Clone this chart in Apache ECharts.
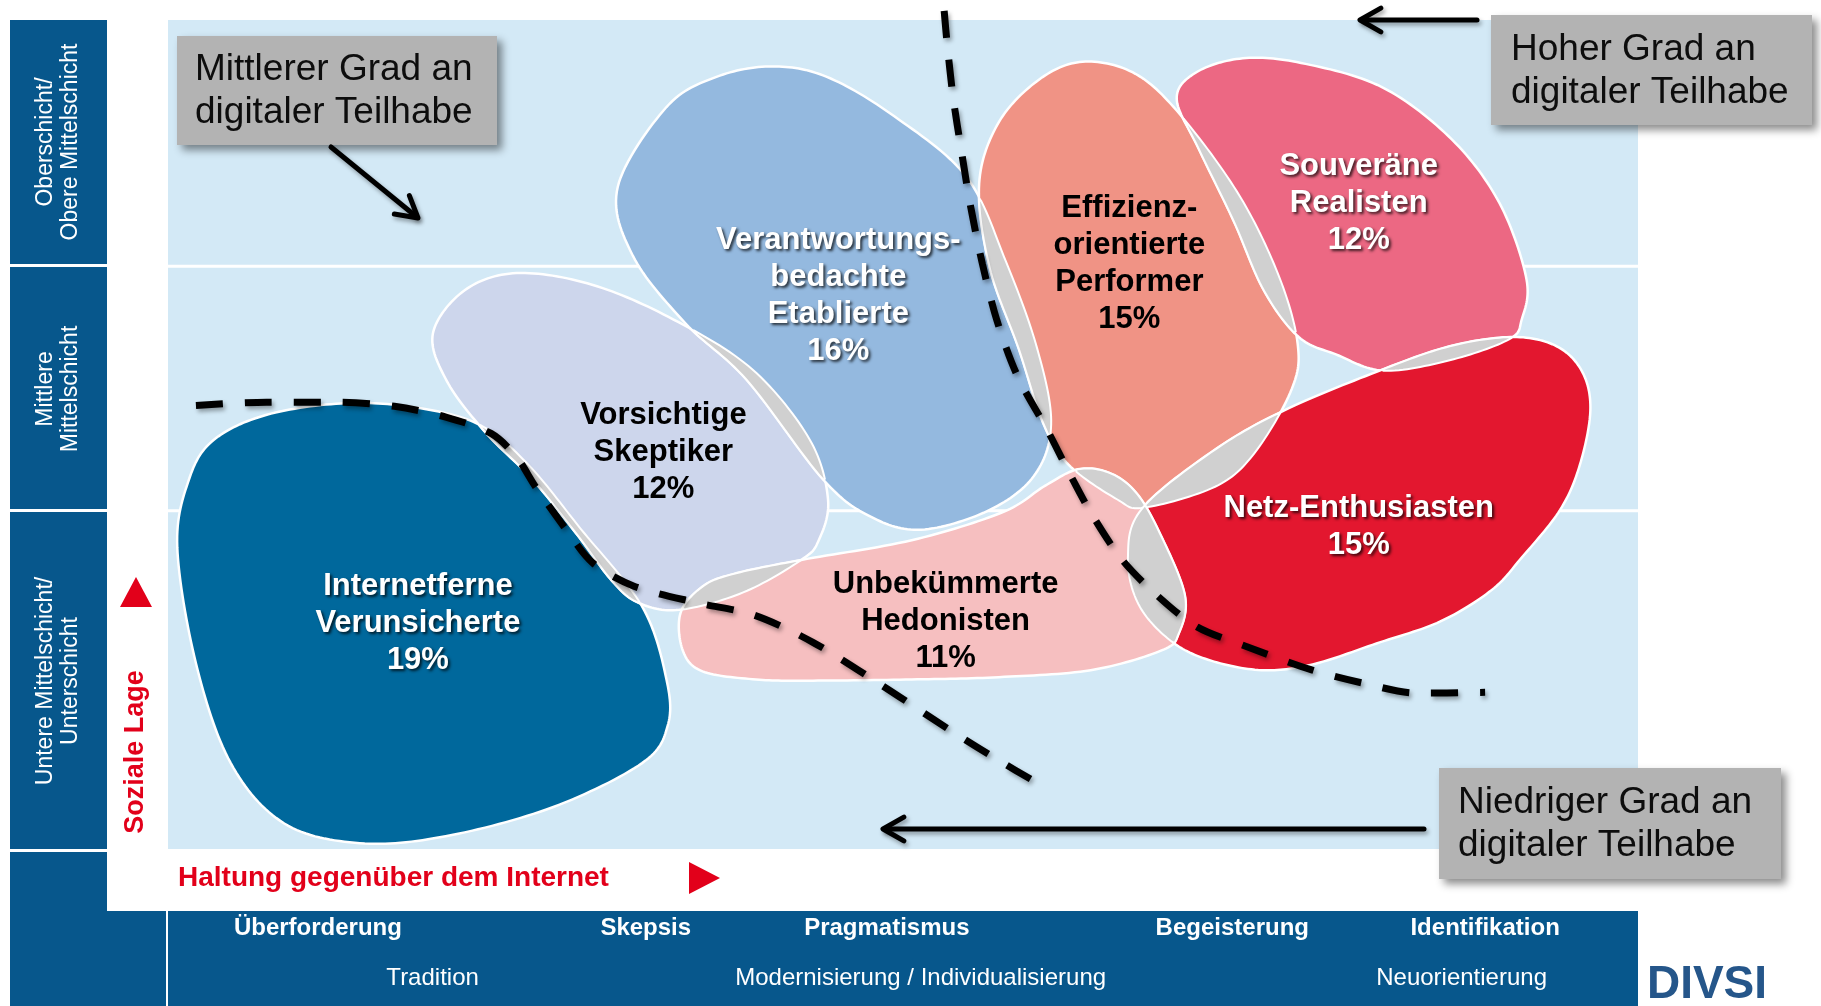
<!DOCTYPE html>
<html>
<head>
<meta charset="utf-8">
<title>DIVSI Internet-Milieus</title>
<script src="https://cdn.jsdelivr.net/npm/echarts@6/dist/echarts.min.js"></script>
<style>
html,body{margin:0;padding:0;background:#ffffff;}
#chart{width:1821px;height:1006px;}
</style>
</head>
<body>
<div id="chart"></div>
<script>
// ---------------- DATA ----------------
// x: Haltung gegenüber dem Internet (0..100), y: Soziale Lage (0..100)
const segmentNames = [
  'Internetferne\nVerunsicherte',
  'Vorsichtige\nSkeptiker',
  'Verantwortungs-\nbedachte\nEtablierte',
  'Effizienz-\norientierte\nPerformer',
  'Souveräne\nRealisten',
  'Netz-Enthusiasten',
  'Unbekümmerte\nHedonisten'
];
const segmentShares = [19, 12, 16, 15, 12, 15, 11];
const labelAnchors = [[17.0,27.2],[33.7,47.8],[45.6,66.7],[65.4,70.6],[81.0,77.9],[81.0,38.9],[52.9,27.5]];

const outlineInternetferne = [[12.09,53.78],[17.00,53.22],[21.26,51.12],[24.51,46.36],[28.06,38.66],[32.25,29.27],[33.91,20.45],[33.99,14.85],[32.25,10.36],[26.17,5.04],[18.89,1.54],[13.04,0.70],[7.91,3.08],[4.27,10.36],[1.90,22.41],[0.63,36.41],[1.42,44.54],[3.08,49.30],[6.72,52.38]];
const outlineSkeptiker = [[18.02,62.18],[20.16,67.37],[23.72,69.47],[28.85,68.07],[34.39,63.87],[39.76,57.84],[43.64,49.44],[44.90,42.16],[44.27,37.25],[43.08,34.87],[39.13,30.95],[34.78,28.85],[32.02,29.69],[30.20,32.35],[27.75,38.10],[24.74,44.68],[21.58,50.28],[18.97,56.44]];
const outlineEtablierte = [[30.59,79.83],[33.91,89.50],[37.31,93.14],[41.11,94.40],[44.82,93.14],[49.41,88.38],[54.31,81.09],[57.00,70.87],[59.13,60.36],[60.08,51.26],[58.89,44.96],[55.73,40.76],[51.23,38.52],[47.83,40.06],[44.58,44.54],[39.37,56.58],[35.18,63.45],[31.62,71.57]];
const outlinePerformer = [[55.18,80.25],[56.52,87.68],[59.29,92.86],[62.21,94.96],[65.61,93.70],[68.62,89.08],[72.73,79.27],[75.49,69.47],[76.84,61.06],[76.44,55.46],[73.91,47.76],[71.23,43.70],[66.40,41.18],[64.58,42.16],[61.26,46.36],[59.53,51.40],[57.87,60.36],[55.89,70.17]];
const outlineRealisten = [[68.62,90.48],[69.96,93.70],[73.12,95.38],[77.08,94.82],[82.61,91.88],[87.35,85.57],[90.59,77.87],[92.41,68.77],[92.09,63.87],[91.23,61.48],[87.19,58.96],[82.69,57.70],[79.45,59.66],[76.92,61.76],[74.55,67.37],[72.49,75.77],[70.12,84.45]];
const outlineEnthusiasten = [[66.25,41.04],[71.23,48.18],[75.97,52.94],[82.21,57.56],[87.19,60.64],[91.54,61.76],[94.47,60.64],[96.21,57.56],[96.76,52.94],[96.05,46.36],[94.70,40.90],[92.09,35.15],[90.04,31.23],[86.56,27.45],[82.21,24.79],[77.87,22.27],[74.39,21.57],[70.75,22.83],[68.14,25.21],[66.01,29.55],[65.30,35.15]];
const outlineHedonisten = [[61.90,45.80],[64.03,45.38],[65.85,43.00],[67.43,38.24],[69.17,30.67],[68.77,26.05],[67.59,23.95],[62.77,21.57],[56.52,20.73],[50.59,20.45],[43.87,20.31],[40.00,20.45],[36.36,21.43],[35.02,23.95],[34.86,28.43],[36.36,31.65],[38.50,33.19],[43.08,34.87],[50.59,37.25],[56.76,40.62],[59.68,43.84]];

const dashLow = [[1.9,53.5],[6.7,53.9],[11.5,53.9],[15.4,53.4],[18.9,52.1],[22.0,50.1],[23.7,47.3],[25.0,43.7],[27.1,38.5],[28.9,34.5],[31.7,31.7],[36.0,29.7],[39.9,28.2],[43.9,24.9],[48.6,19.7],[53.4,14.1],[56.6,10.6],[59.0,8.1]];
const dashHigh = [[52.8,101.1],[53.0,97.2],[53.4,90.8],[54.0,83.9],[54.6,77.5],[55.4,70.6],[56.4,63.7],[57.8,57.0],[59.8,50.6],[61.3,45.4],[62.8,40.5],[64.9,34.9],[67.4,30.4],[70.0,26.8],[73.4,24.4],[77.8,21.6],[81.3,20.0],[85.0,18.8],[89.6,18.9]];

const rowBreaks = [70.3, 40.8];
const rowLabels = ['Oberschicht/\nObere Mittelschicht', 'Mittlere\nMittelschicht', 'Untere Mittelschicht/\nUnterschicht'];
const bandTopLabels = ['Überforderung','Skepsis','Pragmatismus','Begeisterung','Identifikation'];
const bandTopX = [10.2, 32.5, 48.9, 72.4, 89.6];
const bandBottomLabels = ['Tradition','Modernisierung / Individualisierung','Neuorientierung'];
const bandBottomX = [18.0, 51.2, 88.0];

// ---------------- STYLES ----------------
const outlines = [outlineInternetferne, outlineSkeptiker, outlineEtablierte, outlinePerformer, outlineRealisten, outlineEnthusiasten, outlineHedonisten];
const blobColors = ['#00689c','#cdd6ec','#94b9df','#f09385','#ec6883','#e3172f','#f6bfc0'];
const labelColors = ['#ffffff','#000000','#ffffff','#000000','#ffffff','#ffffff','#000000'];
const DARK = '#07578c';
const RED = '#e2001a';
const FONT = '"Liberation Sans", Arial, Helvetica, sans-serif';

// ---------------- GEOMETRY HELPERS ----------------
function closedSpline(pts, seg) {
  const n = pts.length, out = [];
  for (let i = 0; i < n; i++) {
    const p0 = pts[(i - 1 + n) % n], p1 = pts[i], p2 = pts[(i + 1) % n], p3 = pts[(i + 2) % n];
    for (let s = 0; s < seg; s++) {
      const t = s / seg, t2 = t * t, t3 = t2 * t;
      const f = k => 0.5 * ((2 * p1[k]) + (-p0[k] + p2[k]) * t + (2 * p0[k] - 5 * p1[k] + 4 * p2[k] - p3[k]) * t2 + (-p0[k] + 3 * p1[k] - 3 * p2[k] + p3[k]) * t3);
      out.push([f(0), f(1)]);
    }
  }
  return out;
}
function signedArea(p) {
  let a = 0;
  for (let i = 0, j = p.length - 1; i < p.length; j = i++) a += p[j][0] * p[i][1] - p[i][0] * p[j][1];
  return a / 2;
}
function pixelOutline(api, idx) {
  const pts = closedSpline(outlines[idx], 16).map(p => api.coord(p));
  if (signedArea(pts) < 0) pts.reverse();
  return pts;
}
function pointIn(pt, poly) {
  let c = false;
  for (let i = 0, j = poly.length - 1; i < poly.length; j = i++) {
    const xi = poly[i][0], yi = poly[i][1], xj = poly[j][0], yj = poly[j][1];
    if (((yi > pt[1]) !== (yj > pt[1])) && (pt[0] < (xj - xi) * (pt[1] - yi) / (yj - yi) + xi)) c = !c;
  }
  return c;
}
function insideRun(a, b) {
  const n = a.length, f = a.map(p => pointIn(p, b));
  if (!f.some(Boolean)) return [];
  if (f.every(Boolean)) return a.slice();
  let s = 0;
  for (let i = 0; i < n; i++) { if (f[i] && !f[(i - 1 + n) % n]) { s = i; break; } }
  const r = [];
  for (let k = 0; k < n; k++) { const i = (s + k) % n; if (!f[i]) break; r.push(a[i]); }
  return r;
}
const pairs = [];
for (let i = 0; i < outlines.length; i++) for (let j = i + 1; j < outlines.length; j++) pairs.push([i, j]);

// ---------------- GRAPHIC LAYOUT ----------------
function arrow(x1, y1, x2, y2) {
  const a = Math.atan2(y2 - y1, x2 - x1), L = 24, s = 0.52;
  const st = {stroke: '#000', lineWidth: 5, lineCap: 'round', lineJoin: 'round', shadowColor: 'rgba(0,0,0,0.35)', shadowBlur: 4, shadowOffsetX: 2, shadowOffsetY: 3};
  return [
    {type: 'polyline', z: 60, shape: {points: [[x1, y1], [x2 - 2 * Math.cos(a), y2 - 2 * Math.sin(a)]]}, style: st},
    {type: 'polyline', z: 60, shape: {points: [[x2 - L * Math.cos(a - s), y2 - L * Math.sin(a - s)], [x2, y2], [x2 - L * Math.cos(a + s), y2 - L * Math.sin(a + s)]]}, style: st}
  ];
}
function callout(x, y, w, h, tx, text) {
  return [
    {type: 'rect', z: 50, shape: {x: x, y: y, width: w, height: h}, style: {fill: '#b3b3b3', shadowBlur: 8, shadowOffsetX: 5, shadowOffsetY: 5, shadowColor: 'rgba(0,0,0,0.45)'}},
    {type: 'text', z: 51, x: tx, y: y + h / 2 + 1, style: {text: text, font: '37px ' + FONT, fill: '#0d0d0d', textAlign: 'left', align: 'left', textVerticalAlign: 'middle', verticalAlign: 'middle', lineHeight: 43}}
  ];
}
const rowLabelY = [142, 389, 681];
const g = [];
[[20, 244], [267, 242], [512, 337]].forEach(([y, h]) => g.push({type: 'rect', shape: {x: 10, y: y, width: 97, height: h}, style: {fill: DARK}}));
g.push({type: 'rect', shape: {x: 10, y: 852, width: 97, height: 154}, style: {fill: DARK}});
g.push({type: 'rect', shape: {x: 10, y: 911, width: 156, height: 95}, style: {fill: DARK}});
g.push({type: 'rect', shape: {x: 168, y: 911, width: 1470, height: 95}, style: {fill: DARK}});
rowLabels.forEach((t, i) => g.push({type: 'text', x: 58, y: rowLabelY[i], rotation: Math.PI / 2,
  style: {text: t, font: '23px ' + FONT, fill: '#ffffff', textAlign: 'center', align: 'center', textVerticalAlign: 'middle', verticalAlign: 'middle', lineHeight: 25}}));
g.push({type: 'text', x: 136, y: 752, rotation: Math.PI / 2,
  style: {text: 'Soziale Lage', font: 'bold 27px ' + FONT, fill: RED, textAlign: 'center', align: 'center', textVerticalAlign: 'middle', verticalAlign: 'middle'}});
g.push({type: 'polygon', shape: {points: [[120, 607], [152, 607], [136, 577]]}, style: {fill: RED}});
g.push({type: 'text', x: 178, y: 878,
  style: {text: 'Haltung gegenüber dem Internet', font: 'bold 28px ' + FONT, fill: RED, textAlign: 'left', align: 'left', textVerticalAlign: 'middle', verticalAlign: 'middle'}});
g.push({type: 'polygon', shape: {points: [[689, 862], [689, 894], [720, 878]]}, style: {fill: RED}});
g.push({type: 'text', x: 1707, y: 985,
  style: {text: 'DIVSI', font: 'bold 46px ' + FONT, fill: '#25568a', textAlign: 'center', align: 'center', textVerticalAlign: 'middle', verticalAlign: 'middle'}});
g.push(...callout(177, 36, 320, 109, 195, 'Mittlerer Grad an\ndigitaler Teilhabe'));
g.push(...callout(1491, 15, 321, 110, 1511, 'Hoher Grad an\ndigitaler Teilhabe'));
g.push(...callout(1439, 768, 342, 111, 1458, 'Niedriger Grad an\ndigitaler Teilhabe'));
g.push(...arrow(331, 147, 418, 218));
g.push(...arrow(1477, 20, 1360, 20));
g.push(...arrow(1424, 829, 883, 829));

// ---------------- CHART ----------------
const chart = echarts.init(document.getElementById('chart'), null, {renderer: 'canvas'});
const dashStyle = {color: '#000', width: 7, type: [27, 22], cap: 'butt', shadowColor: 'rgba(0,0,0,0.35)', shadowBlur: 4, shadowOffsetX: 2, shadowOffsetY: 3};

chart.setOption({
  animation: false,
  backgroundColor: '#ffffff',
  grid: {left: 168, top: 20, width: 1470, height: 829, show: true, backgroundColor: '#d3e9f6', borderWidth: 0},
  xAxis: {type: 'value', min: 0, max: 100, show: false},
  yAxis: {type: 'value', min: 0, max: 100, show: false},
  graphic: {elements: g},
  series: [
    {
      type: 'custom', name: 'rows', silent: true, z: 1,
      data: rowBreaks.map(v => [0, v]),
      renderItem: (p, api) => {
        const a = api.coord([0, api.value(1)]), b = api.coord([100, api.value(1)]);
        return {type: 'line', shape: {x1: a[0], y1: a[1], x2: b[0], y2: b[1]}, style: {stroke: '#ffffff', lineWidth: 3}};
      }
    },
    {
      type: 'custom', name: 'segments', silent: true, z: 2,
      data: labelAnchors.map((a, i) => [a[0], a[1], i]),
      renderItem: (p, api) => {
        const i = api.value(2);
        return {type: 'polygon', shape: {points: pixelOutline(api, i)}, style: {fill: blobColors[i], stroke: '#ffffff', lineWidth: 2.5}};
      }
    },
    {
      type: 'custom', name: 'overlaps', silent: true, z: 3,
      data: pairs,
      renderItem: (p, api) => {
        const A = pixelOutline(api, api.value(0)), B = pixelOutline(api, api.value(1));
        const ra = insideRun(A, B), rb = insideRun(B, A);
        if (ra.length < 2 || rb.length < 2) return {type: 'group', children: []};
        return {type: 'polygon', shape: {points: ra.concat(rb)}, style: {fill: '#d0d0d0', stroke: '#ffffff', lineWidth: 2}};
      }
    },
    {type: 'line', name: 'Grenze niedrig', data: dashLow, smooth: 0.3, symbol: 'none', clip: false, silent: true, z: 4, lineStyle: dashStyle},
    {type: 'line', name: 'Grenze hoch', data: dashHigh, smooth: 0.3, symbol: 'none', clip: false, silent: true, z: 4, lineStyle: dashStyle},
    {
      type: 'custom', name: 'labels', silent: true, z: 5,
      data: labelAnchors.map((a, i) => [a[0], a[1], i]),
      renderItem: (p, api) => {
        const i = api.value(2), c = api.coord([api.value(0), api.value(1)]);
        const white = labelColors[i] === '#ffffff';
        return {type: 'text', x: c[0], y: c[1], style: {
          text: segmentNames[i] + '\n' + segmentShares[i] + '%',
          font: 'bold 31px ' + FONT, fill: labelColors[i], lineHeight: 37,
          textAlign: 'center', align: 'center', textVerticalAlign: 'middle', verticalAlign: 'middle',
          textShadowColor: white ? 'rgba(0,0,0,0.75)' : 'transparent', textShadowBlur: white ? 3 : 0,
          textShadowOffsetX: white ? 2 : 0, textShadowOffsetY: white ? 2 : 0
        }};
      }
    },
    {
      type: 'custom', name: 'bandTop', silent: true, z: 6, clip: false,
      data: bandTopX.map((x, i) => [x, 0, i]),
      renderItem: (p, api) => {
        const c = api.coord([api.value(0), 0]);
        return {type: 'text', x: c[0], y: 928, style: {text: bandTopLabels[api.value(2)], font: 'bold 24px ' + FONT, fill: '#ffffff',
          textAlign: 'center', align: 'center', textVerticalAlign: 'middle', verticalAlign: 'middle'}};
      }
    },
    {
      type: 'custom', name: 'bandBottom', silent: true, z: 6, clip: false,
      data: bandBottomX.map((x, i) => [x, 0, i]),
      renderItem: (p, api) => {
        const c = api.coord([api.value(0), 0]);
        return {type: 'text', x: c[0], y: 978, style: {text: bandBottomLabels[api.value(2)], font: '24px ' + FONT, fill: '#ffffff',
          textAlign: 'center', align: 'center', textVerticalAlign: 'middle', verticalAlign: 'middle'}};
      }
    }
  ]
});
</script>
</body>
</html>
